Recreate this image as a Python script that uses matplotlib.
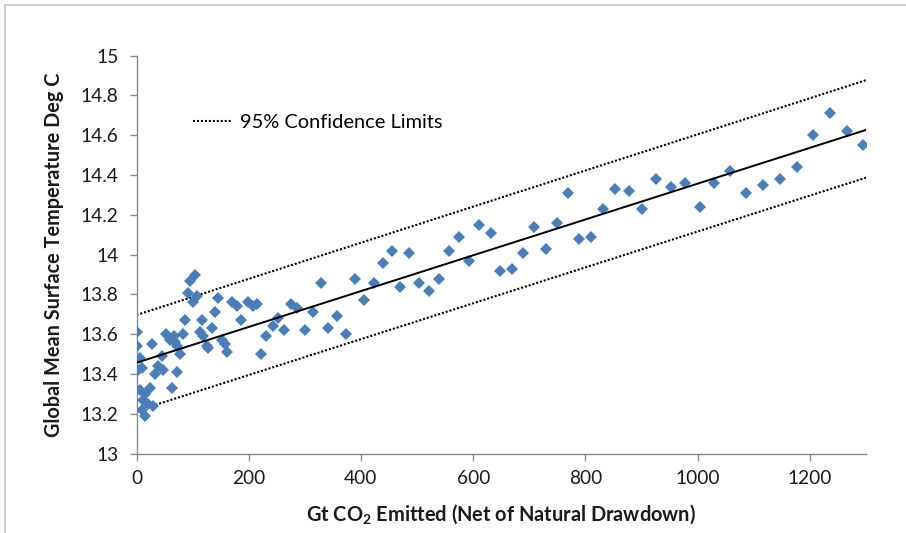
import matplotlib
matplotlib.use("Agg")
import matplotlib.pyplot as plt
from matplotlib.lines import Line2D

plt.rcParams['font.family'] = ['Lato', 'DejaVu Sans']
plt.rcParams['mathtext.fontset'] = 'custom'
plt.rcParams['mathtext.rm'] = 'Lato'
plt.rcParams['mathtext.bf'] = 'Lato:bold'

# Data
emitted = [1, 1, 3, 6, 9, 6, 12, 9, 15, 15, 21, 24, 27, 30, 33, 39, 45, 48,
           53, 60, 63, 66, 69, 72, 72, 78, 83, 86, 92, 95, 101,
           104, 107, 113, 116, 119, 125, 128, 134, 139, 145, 152, 158, 162,
           170, 179, 187, 199, 208, 215, 221, 231, 243, 253, 262, 275, 286,
           300, 314, 328, 342, 358, 373, 389, 405, 423, 439, 455, 470, 486,
           503, 521, 539, 556, 575, 592, 611, 632, 647, 670, 688, 708, 729,
           749, 769, 789, 810, 832, 853, 877, 901, 925, 952, 977, 1005, 1030,
           1057, 1087, 1117, 1147, 1177, 1205, 1236, 1266, 1295]
temperature = [13.61, 13.54, 13.42, 13.48, 13.43, 13.32, 13.27, 13.22, 13.30, 13.19,
               13.25, 13.33, 13.55, 13.24, 13.40, 13.44, 13.49, 13.42,
               13.60, 13.57, 13.33, 13.59, 13.56, 13.41, 13.54, 13.50, 13.60, 13.67,
               13.81, 13.87, 13.76,
               13.90, 13.79, 13.61, 13.67, 13.59, 13.54, 13.53, 13.63, 13.71, 13.78,
               13.57, 13.55, 13.51,
               13.76, 13.74, 13.67, 13.76, 13.74, 13.75, 13.50, 13.59, 13.64, 13.68,
               13.62, 13.75, 13.73,
               13.62, 13.71, 13.86, 13.63, 13.69, 13.60, 13.88, 13.77, 13.86, 13.96,
               14.02, 13.84, 14.01,
               13.86, 13.82, 13.88, 14.02, 14.09, 13.97, 14.15, 14.11, 13.92, 13.93,
               14.01, 14.14, 14.03,
               14.16, 14.31, 14.08, 14.09, 14.23, 14.33, 14.32, 14.23, 14.38, 14.34,
               14.36, 14.24, 14.36,
               14.42, 14.31, 14.35, 14.38, 14.44, 14.60, 14.71, 14.62, 14.55]

trend_x = [0, 1300]
trend_y = [13.457, 14.627]
upper_y = [13.697, 14.877]
lower_y = [13.215, 14.387]

x_ticks = [0, 200, 400, 600, 800, 1000, 1200]
y_ticks = [13, 13.2, 13.4, 13.6, 13.8, 14, 14.2, 14.4, 14.6, 14.8, 15]
y_tick_labels = ['13', '13.2', '13.4', '13.6', '13.8', '14', '14.2', '14.4', '14.6', '14.8', '15']

W, H = 906, 533
fig = plt.figure(figsize=(W / 100, H / 100), dpi=100)
ax = fig.add_axes([136.5 / W, 1 - 453.7 / H, (866 - 136.5) / W, (453.7 - 55.7) / H])

blue = '#4a7ebb'
ax.plot(emitted, temperature, linestyle='none', marker='D', ms=6.6,
        color=blue, markeredgewidth=0, zorder=3)
ax.plot(trend_x, trend_y, color='black', lw=1.4, zorder=4)
dot = (0, (1, 0.9))
ax.plot(trend_x, upper_y, color='black', lw=1.5, linestyle=dot, zorder=2)
ax.plot(trend_x, lower_y, color='black', lw=1.5, linestyle=dot, zorder=2)

ax.set_xlim(0, 1300)
ax.set_ylim(13, 15)
ax.set_xticks(x_ticks)
ax.set_yticks(y_ticks)
ax.set_yticklabels(y_tick_labels)
for s in ['top', 'right']:
    ax.spines[s].set_visible(False)
for s in ['left', 'bottom']:
    ax.spines[s].set_color('#898989')
    ax.spines[s].set_linewidth(1.0)
ax.tick_params(axis='both', colors='#898989', labelcolor='#1a1a1a',
               labelsize=13.8, length=5, width=1.0, direction='out')
ax.tick_params(axis='y', pad=8)
ax.tick_params(axis='x', pad=7)

ax.set_xlabel('Gt CO$_{\\mathbf{2}}$ Emitted (Net of Natural Drawdown)',
              fontsize=14.4, fontweight='bold', labelpad=11, color='#1a1a1a')
ax.set_ylabel('Global Mean Surface Temperature Deg C',
              fontsize=14.3, fontweight='bold', labelpad=12, color='#1a1a1a')

# legend entry
leg_handle = Line2D([0], [0], color='black', lw=1.5, linestyle=dot)
leg = ax.legend([leg_handle], ['95% Confidence Limits'], loc='upper left',
                bbox_to_anchor=(48 / (866 - 136.5), 1 - (118 - 55.7 - 12) / (453.7 - 55.7)),
                frameon=False, fontsize=14.4, handlelength=1.9, handletextpad=0.45,
                borderaxespad=0)

# outer chart frame (top and left edges visible)
fig.add_artist(Line2D([5 / W, 1], [1 - 5 / H, 1 - 5 / H], color='#c8c8c8', lw=1.2))
fig.add_artist(Line2D([5 / W, 5 / W], [0, 1 - 5 / H], color='#c8c8c8', lw=1.2))

fig.savefig('out.png', dpi=100)
